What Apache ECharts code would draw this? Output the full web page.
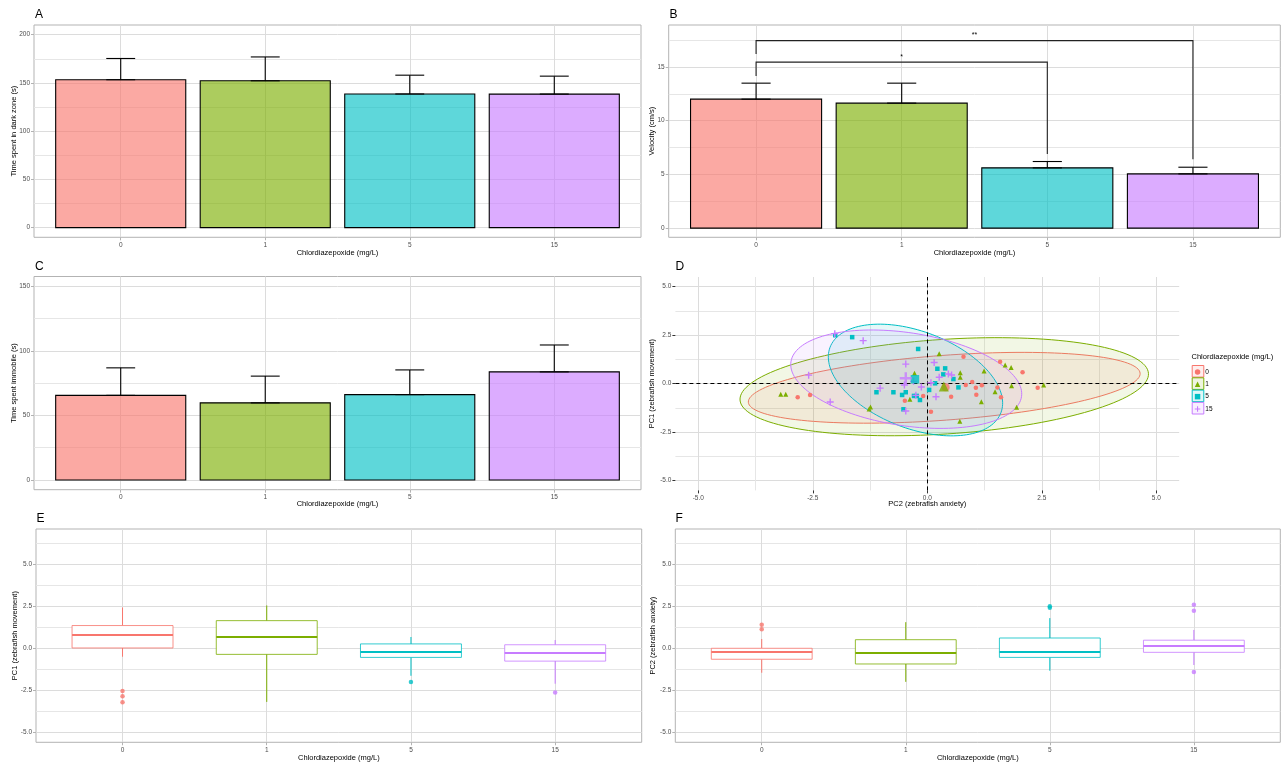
<!DOCTYPE html>
<html>
<head>
<meta charset="utf-8">
<script src="https://cdn.jsdelivr.net/npm/echarts@6/dist/echarts.min.js"></script>
<style>
  html, body { margin: 0; padding: 0; background: #ffffff; }
  #chart { width: 1288px; height: 764px; }
</style>
</head>
<body>
<div id="chart"></div>
<script>
// ---------- data ----------
const doses = ['0', '1', '5', '15'];
const groupColors = ['#F8766D', '#7CAE00', '#00BFC4', '#C77CFF'];

// A: time spent in the dark zone (s): mean and mean + SE
const darkZoneMean = [153.3, 152.2, 138.5, 138.4];
const darkZoneUpper = [175.3, 176.9, 158.0, 157.0];

// B: swimming velocity (cm/s): mean and mean + SE
const velocityMean = [12.0, 11.63, 5.61, 5.05];
const velocityUpper = [13.49, 13.49, 6.2, 5.67];

// B: significance brackets
const sigFrom = ['0', '0'];
const sigTo = ['5', '15'];
const sigHeight = [15.45, 17.45];
const sigLeftEnd = [14.15, 16.2];
const sigRightEnd = [6.9, 6.4];
const sigText = ['*', '**'];

// C: time spent immobile (s): mean and mean + SE
const immobileMean = [65.5, 59.7, 66.1, 83.7];
const immobileUpper = [86.8, 80.4, 85.2, 104.5];

// D: PCA scores per fish, [PC2, PC1]
const scores0 = [[-2.83, -0.70], [-2.56, -0.58], [-0.49, -0.88], [-0.09, -0.63], [0.08, -1.44], [0.52, -0.67],
  [0.79, 1.39], [1.59, 1.13], [0.98, 0.09], [1.06, -0.21], [1.19, -0.08], [1.07, -0.57], [1.53, -0.19],
  [1.61, -0.70], [2.08, 0.59], [2.41, -0.21], [0.84, -0.07]];
const scores1 = [[-3.20, -0.55], [-3.09, -0.55], [-1.27, -1.30], [-1.24, -1.20], [-0.38, -0.80], [-0.28, 0.54],
  [0.26, 1.55], [0.72, 0.56], [0.72, 0.33], [0.71, -1.94], [1.24, 0.65], [1.70, 0.96], [1.83, 0.83],
  [1.84, -0.11], [2.54, -0.07], [1.48, -0.41], [1.18, -0.93], [1.95, -1.22]];
const scores5 = [[-2.01, 2.50], [-1.64, 2.40], [-0.20, 1.79], [-1.11, -0.44], [-0.74, -0.44], [-0.55, -0.58],
  [-0.47, -0.44], [-0.52, -1.32], [-0.29, -0.63], [-0.23, -0.63], [-0.16, -0.84], [0.04, -0.32],
  [0.22, 0.77], [0.39, 0.79], [0.35, 0.48], [0.57, 0.24], [0.68, -0.19], [0.17, 0.02]];
const scores15 = [[-2.02, 2.58], [-1.40, 2.22], [-2.59, 0.44], [-2.12, -0.94], [-1.03, -0.23], [-0.47, 1.01],
  [-0.50, -0.07], [-0.47, -1.41], [-0.25, -0.60], [-0.13, -0.17], [0.15, 1.09], [0.26, 0.33],
  [0.19, -0.67], [0.46, 0.50], [0.53, 0.45], [0.08, 0.05], [-0.30, 0.12]];
const groupMeans = [[0.40, -0.18], [0.36, -0.15], [-0.27, 0.23], [-0.47, 0.28]];

// D: 95% ellipses, centre and two conjugate semi-axes
const ellipseCentre = [[0.37, -0.21], [0.37, -0.155], [-0.258, 0.19], [-0.46, 0.232]];
const ellipseAxisU = [[4.277, 0.747], [4.459, 0.686], [1.865, -1.691], [2.517, -0.902]];
const ellipseAxisV = [[0.052, -1.665], [0.067, -2.433], [-0.379, -2.33], [-0.153, -2.371]];

// E / F: box statistics [lower whisker, Q1, median, Q3, upper whisker] and outliers
const pc1Box = [[-0.5, 0.02, 0.79, 1.35, 2.42], [-3.18, -0.36, 0.67, 1.64, 2.54],
  [-1.63, -0.54, -0.22, 0.26, 0.67], [-2.1, -0.76, -0.28, 0.21, 0.49]];
const pc1Outliers = [[-2.54, -2.84, -3.2], [], [-2.0], [-2.62]];
const pc2Box = [[-1.45, -0.65, -0.22, 0.0, 0.55], [-1.99, -0.93, -0.28, 0.51, 1.55],
  [-1.33, -0.54, -0.22, 0.61, 1.79], [-0.99, -0.24, 0.14, 0.48, 1.09]];
const pc2Outliers = [[1.13, 1.39], [], [2.40, 2.50], [2.22, 2.58, -1.41]];

// axis breaks
const darkTicks = [0, 50, 100, 150, 200];
const darkMinor = [25, 75, 125, 175];
const velocityTicks = [0, 5, 10, 15];
const velocityMinor = [2.5, 7.5, 12.5, 17.5];
const immobileTicks = [0, 50, 100, 150];
const immobileMinor = [25, 75, 125];
const pcTicks = [-5, -2.5, 0, 2.5, 5];
const pcMinor = [-3.75, -1.25, 1.25, 3.75];
const pcBoxMinor = [-3.75, -1.25, 1.25, 3.75, 6.25];

const doseAxisTitle = 'Chlordiazepoxide (mg/L)';

// ---------- helpers ----------
const FONT = "'Liberation Sans', Arial, sans-serif";
const GRID_MAJOR = '#dcdcdc';
const GRID_MINOR = '#e6e6e6';
const BORDER = '#b3b3b3';

function rgba(hex, a) {
  const n = parseInt(hex.slice(1), 16);
  return 'rgba(' + ((n >> 16) & 255) + ',' + ((n >> 8) & 255) + ',' + (n & 255) + ',' + a + ')';
}
const doseIndex = d => doses.indexOf(d) + 1;
const fmt1 = v => v.toFixed(1);
const fmtInt = v => String(Math.round(v));
const fmtDose = v => doses[Math.round(v) - 1];

const xAxes = [];
const yAxes = [];

function mainAxis(list, grid, min, max, ticks, labelFmt, name, nameGap, tickColor) {
  list.push({
    type: 'value', gridIndex: grid, min: min, max: max,
    axisLine: { show: false, onZero: false },
    axisTick: { show: true, length: 3, customValues: ticks, lineStyle: { color: tickColor || BORDER, width: 1 } },
    axisLabel: { customValues: ticks, formatter: labelFmt, fontSize: 6.5, color: '#4d4d4d', margin: 4, fontFamily: FONT },
    splitLine: { show: true, lineStyle: { color: GRID_MAJOR, width: 1 } },
    minorSplitLine: { show: false },
    name: name, nameLocation: 'middle', nameGap: nameGap, nameMoveOverlap: false,
    nameTextStyle: { fontSize: 7.5, color: '#000', fontFamily: FONT }
  });
  return list.length - 1;
}
function minorAxis(list, grid, min, max, ticks) {
  list.push({
    type: 'value', gridIndex: grid, min: min, max: max,
    axisLine: { show: false, onZero: false },
    axisTick: { show: false, customValues: ticks },
    axisLabel: { show: false, customValues: ticks },
    splitLine: { show: true, lineStyle: { color: GRID_MINOR, width: 1 } }
  });
  return list.length - 1;
}

// ---------- grids (one per panel) ----------
const grids = [
  { left: 34, top: 25, width: 607, height: 212.3 },        // A
  { left: 668.7, top: 25, width: 611.6, height: 212.3 },   // B
  { left: 34, top: 276.5, width: 607, height: 213.2 },     // C
  { left: 675.4, top: 277, width: 503.8, height: 213.4 },  // D
  { left: 36, top: 529, width: 605.7, height: 213.3 },     // E
  { left: 675.3, top: 529, width: 605, height: 213.3 }     // F
].map((g, i) => Object.assign({
  show: i !== 3, borderColor: BORDER, borderWidth: 1, backgroundColor: 'transparent',
  containLabel: false, outerBoundsMode: 'none'
}, g));

// axes
const axA = { x: mainAxis(xAxes, 0, 0.4, 4.6, [1, 2, 3, 4], fmtDose, doseAxisTitle, 12),
  y: mainAxis(yAxes, 0, -10, 210, darkTicks, fmtInt, 'Time spent in dark zone (s)', 16.5) };
minorAxis(yAxes, 0, -10, 210, darkMinor);
const axB = { x: mainAxis(xAxes, 1, 0.4, 4.6, [1, 2, 3, 4], fmtDose, doseAxisTitle, 12),
  y: mainAxis(yAxes, 1, -0.85, 18.9, velocityTicks, fmtInt, 'Velocity (cm/s)', 13) };
minorAxis(yAxes, 1, -0.85, 18.9, velocityMinor);
const axC = { x: mainAxis(xAxes, 2, 0.4, 4.6, [1, 2, 3, 4], fmtDose, doseAxisTitle, 10.5),
  y: mainAxis(yAxes, 2, -7.5, 157.5, immobileTicks, fmtInt, 'Time spent immobile (s)', 16.5) };
minorAxis(yAxes, 2, -7.5, 157.5, immobileMinor);
const axD = { x: mainAxis(xAxes, 3, -5.5, 5.5, pcTicks, fmt1, 'PC2 (zebrafish anxiety)', 10, '#333'),
  y: mainAxis(yAxes, 3, -5.5, 5.5, pcTicks, fmt1, 'PC1 (zebrafish movement)', 19, '#333') };
minorAxis(xAxes, 3, -5.5, 5.5, pcMinor);
minorAxis(yAxes, 3, -5.5, 5.5, pcMinor);
const axE = { x: mainAxis(xAxes, 4, 0.4, 4.6, [1, 2, 3, 4], fmtDose, doseAxisTitle, 11.5),
  y: mainAxis(yAxes, 4, -5.575, 7.075, pcTicks, fmt1, 'PC1 (zebrafish movement)', 17) };
minorAxis(yAxes, 4, -5.575, 7.075, pcBoxMinor);
const axF = { x: mainAxis(xAxes, 5, 0.4, 4.6, [1, 2, 3, 4], fmtDose, doseAxisTitle, 11.5),
  y: mainAxis(yAxes, 5, -5.575, 7.075, pcTicks, fmt1, 'PC2 (zebrafish anxiety)', 18) };
minorAxis(yAxes, 5, -5.575, 7.075, pcBoxMinor);

// ---------- series builders ----------
function barSeries(ax, means, uppers) {
  return {
    type: 'custom', xAxisIndex: ax.x, yAxisIndex: ax.y, z: 3,
    encode: { x: 0, y: [1, 2] },
    data: means.map((m, i) => [i + 1, m, uppers[i]]),
    renderItem: function (params, api) {
      const i = params.dataIndex;
      const x = api.value(0), m = api.value(1), u = api.value(2);
      const b0 = api.coord([x - 0.45, 0]);
      const b1 = api.coord([x + 0.45, m]);
      const e0 = api.coord([x - 0.1, u]);
      const e1 = api.coord([x + 0.1, m]);
      const xc = api.coord([x, m])[0];
      const ls = { stroke: '#000', lineWidth: 1.1 };
      return {
        type: 'group', children: [
          { type: 'rect', shape: { x: b0[0], y: b1[1], width: b1[0] - b0[0], height: b0[1] - b1[1] },
            style: { fill: rgba(groupColors[i], 0.63), stroke: '#000', lineWidth: 1.1 } },
          { type: 'line', shape: { x1: xc, y1: e0[1], x2: xc, y2: e1[1] }, style: ls },
          { type: 'line', shape: { x1: e0[0], y1: e0[1], x2: e1[0], y2: e0[1] }, style: ls },
          { type: 'line', shape: { x1: e0[0], y1: e1[1], x2: e1[0], y2: e1[1] }, style: ls }
        ]
      };
    }
  };
}

function boxSeries(ax, stats) {
  return {
    type: 'custom', xAxisIndex: ax.x, yAxisIndex: ax.y, z: 3,
    encode: { x: 0, y: [1, 2, 3, 4, 5] },
    data: stats.map((s, i) => [i + 1].concat(s)),
    renderItem: function (params, api) {
      const c = groupColors[params.dataIndex];
      const x = api.value(0);
      const lo = api.coord([x, api.value(1)]);
      const q1 = api.coord([x + 0.35, api.value(2)]);
      const md = api.coord([x, api.value(3)]);
      const q3 = api.coord([x - 0.35, api.value(4)]);
      const hi = api.coord([x, api.value(5)]);
      return {
        type: 'group', children: [
          { type: 'line', shape: { x1: hi[0], y1: hi[1], x2: hi[0], y2: q3[1] }, style: { stroke: c, lineWidth: 1 } },
          { type: 'line', shape: { x1: lo[0], y1: q1[1], x2: lo[0], y2: lo[1] }, style: { stroke: c, lineWidth: 1 } },
          { type: 'rect', shape: { x: q3[0], y: q3[1], width: q1[0] - q3[0], height: q1[1] - q3[1] },
            style: { fill: '#ffffff', stroke: rgba(c, 0.8), lineWidth: 1 } },
          { type: 'line', shape: { x1: q3[0], y1: md[1], x2: q1[0], y2: md[1] }, style: { stroke: c, lineWidth: 2 } }
        ]
      };
    }
  };
}

function outlierSeries(ax, outliers) {
  const data = [];
  outliers.forEach((vals, i) => vals.forEach(v => data.push({ value: [i + 1, v], itemStyle: { color: groupColors[i] } })));
  return { type: 'scatter', xAxisIndex: ax.x, yAxisIndex: ax.y, z: 4, symbol: 'circle', symbolSize: 4.5, data: data };
}

const plusPath = 'path://M4,0H6V4H10V6H6V10H4V6H0V4H4Z';
const groupSymbols = ['circle', 'triangle', 'rect', plusPath];
const groupSizes = [4.5, 5, 4.5, 7];
const meanSizes = [8, 10, 8.5, 12];
const groupScores = [scores0, scores1, scores5, scores15];

const series = [
  barSeries(axA, darkZoneMean, darkZoneUpper),
  barSeries(axB, velocityMean, velocityUpper),
  {
    // significance brackets on panel B
    type: 'custom', xAxisIndex: axB.x, yAxisIndex: axB.y, z: 4,
    encode: { x: [0, 1], y: [2, 3, 4] },
    data: sigFrom.map((f, i) => [doseIndex(f), doseIndex(sigTo[i]), sigHeight[i], sigLeftEnd[i], sigRightEnd[i]]),
    renderItem: function (params, api) {
      const x1 = api.value(0), x2 = api.value(1), h = api.value(2);
      const p = [api.coord([x1, api.value(3)]), api.coord([x1, h]), api.coord([x2, h]), api.coord([x2, api.value(4)])];
      const mid = api.coord([(x1 + x2) / 2, h]);
      return {
        type: 'group', children: [
          { type: 'polyline', shape: { points: p }, style: { stroke: '#222', lineWidth: 1.1, fill: null } },
          { type: 'text', x: mid[0], y: mid[1] - 2,
            style: { text: sigText[params.dataIndex], fontSize: 7, fill: '#000', align: 'center', verticalAlign: 'bottom', fontFamily: FONT } }
        ]
      };
    }
  },
  barSeries(axC, immobileMean, immobileUpper),
  {
    // 95% confidence ellipses on panel D
    type: 'custom', xAxisIndex: axD.x, yAxisIndex: axD.y, z: 1,
    encode: { x: 0, y: 1 },
    data: ellipseCentre.map((c, i) => [c[0], c[1], ellipseAxisU[i][0], ellipseAxisU[i][1], ellipseAxisV[i][0], ellipseAxisV[i][1]]),
    renderItem: function (params, api) {
      const i = params.dataIndex;
      const cx = api.value(0), cy = api.value(1);
      const ux = api.value(2), uy = api.value(3), vx = api.value(4), vy = api.value(5);
      const pts = [];
      for (let k = 0; k < 144; k++) {
        const t = k / 144 * 2 * Math.PI;
        pts.push(api.coord([cx + Math.cos(t) * ux + Math.sin(t) * vx, cy + Math.cos(t) * uy + Math.sin(t) * vy]));
      }
      return { type: 'polygon', shape: { points: pts },
        style: { fill: rgba(groupColors[i], 0.1), stroke: groupColors[i], lineWidth: 1 } };
    }
  }
];

groupScores.forEach((pts, i) => {
  const s = {
    type: 'scatter', name: doses[i], xAxisIndex: axD.x, yAxisIndex: axD.y, z: 4,
    symbol: groupSymbols[i], symbolSize: groupSizes[i],
    itemStyle: { color: groupColors[i], opacity: 1 },
    data: pts
  };
  if (i === 0) {
    s.markLine = {
      silent: true, symbol: 'none', z: 3,
      label: { show: false },
      lineStyle: { color: '#000', width: 1, type: [4, 3] },
      emphasis: { disabled: true },
      data: [{ xAxis: 0 }, { yAxis: 0 }]
    };
  }
  series.push(s);
});
series.push({
  type: 'scatter', name: 'group means', xAxisIndex: axD.x, yAxisIndex: axD.y, z: 5,
  data: groupMeans.map((m, i) => ({ value: m, symbol: groupSymbols[i], symbolSize: meanSizes[i], itemStyle: { color: groupColors[i] } }))
});

series.push(boxSeries(axE, pc1Box), outlierSeries(axE, pc1Outliers));
series.push(boxSeries(axF, pc2Box), outlierSeries(axF, pc2Outliers));

// ---------- panel tags and legend ----------
const panelTag = (t, left, top) => ({
  text: t, left: left, top: top, padding: 0,
  textStyle: { fontSize: 12, fontWeight: 'normal', color: '#000', fontFamily: FONT }
});
const titles = [
  panelTag('A', 35, 8.5), panelTag('B', 669.5, 8.5),
  panelTag('C', 35, 260.5), panelTag('D', 675.5, 260.5),
  panelTag('E', 36.5, 513), panelTag('F', 675.5, 513),
  { text: doseAxisTitle, left: 1191.5, top: 353, padding: 0,
    textStyle: { fontSize: 7.5, fontWeight: 'normal', color: '#000', fontFamily: FONT } }
];

const keyBoxes = doses.map((d, i) => ({
  type: 'rect', left: 1191.7, top: 365 + i * 12.3, z: 0,
  shape: { width: 11.6, height: 11.6 },
  style: { fill: rgba(groupColors[i], 0.12), stroke: groupColors[i], lineWidth: 1 }
}));

const option = {
  animation: false,
  backgroundColor: '#ffffff',
  textStyle: { fontFamily: FONT },
  title: titles,
  grid: grids,
  xAxis: xAxes,
  yAxis: yAxes,
  legend: {
    data: doses, orient: 'vertical', left: 1194.8, top: 365.9, padding: 0,
    itemWidth: 5.5, itemHeight: 5.5, itemGap: 0, selectedMode: false,
    textStyle: { fontSize: 6.5, color: '#000', lineHeight: 12.3, fontFamily: FONT }
  },
  graphic: keyBoxes,
  series: series
};

const chart = echarts.init(document.getElementById('chart'), null, { renderer: 'canvas' });
chart.setOption(option);
</script>
</body>
</html>
